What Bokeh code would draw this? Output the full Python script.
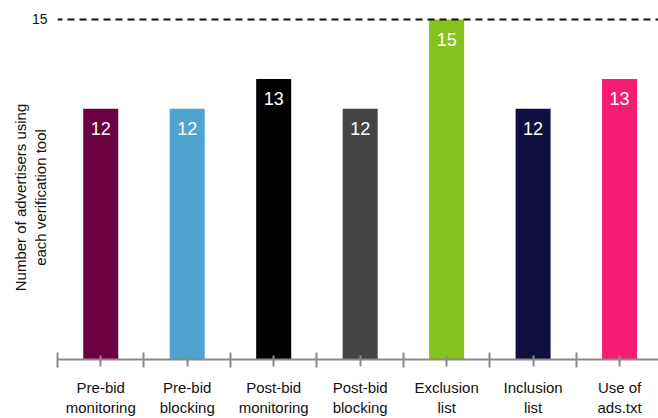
from bokeh.plotting import figure
from bokeh.models import ColumnDataSource, Range1d, FixedTicker, Span
from bokeh.core.properties import value
from bokeh.embed import file_html
from bokeh.resources import INLINE

# ---- data ----
categories = ["Pre-bid\nmonitoring", "Pre-bid\nblocking", "Post-bid\nmonitoring",
              "Post-bid\nblocking", "Exclusion\nlist", "Inclusion\nlist", "Use of\nads.txt"]
counts = [12, 12, 13, 12, 15, 12, 13]
colors = ["#6d0042", "#4fa3cf", "#000000", "#444444", "#84c21e", "#110f40", "#f41c73"]
y_ticks = [15]
y_title_lines = ["Number of advertisers using", "each verification tool"]

FONT = "Liberation Sans"

centers = [i + 0.5 for i in range(len(categories))]
bounds = list(range(len(categories)))

src = ColumnDataSource(dict(x=centers, top=counts, color=colors,
                            label=[str(c) for c in counts]))

y0, y1 = 3.567, 15.3
p = figure(width=658, height=418, output_backend="svg", toolbar_location=None,
           x_range=Range1d(0, 6.95), y_range=Range1d(y0, y1),
           min_border_left=57, min_border_right=0, min_border_top=10, min_border_bottom=56)

p.vbar(x="x", top="top", bottom=0, width=0.405, color="color", line_color=None, source=src)
p.text(x="x", y="top", text="label", text_color="white", text_font=value(FONT),
       text_font_size="18px", text_align="center", text_baseline="middle",
       y_offset=20, source=src)

p.add_layout(Span(location=y_ticks[0], dimension="width", line_color="#111111",
                  line_width=2, line_dash="7 5", line_dash_offset=2))

# x axis
xa = p.xaxis[0]
xa.ticker = FixedTicker(ticks=centers, minor_ticks=bounds)
xa.major_label_overrides = {c: lab for c, lab in zip(centers, categories)}
xa.axis_line_color = "#8a8a8a"
xa.axis_line_width = 2
xa.major_tick_line_color = "#8a8a8a"
xa.major_tick_line_width = 2
xa.minor_tick_line_color = "#8a8a8a"
xa.minor_tick_line_width = 2
xa.major_tick_in = 4
xa.major_tick_out = 7
xa.minor_tick_in = 7
xa.minor_tick_out = 8
xa.major_label_standoff = 11
xa.major_label_text_font = FONT
xa.major_label_text_font_size = "15px"
xa.major_label_text_color = "#111111"

# y axis
pad = "\u00a0" * 6  # shifts the centred label slightly towards the axis start
ya = p.yaxis[0]
ya.ticker = FixedTicker(ticks=y_ticks)
ya.axis_line_color = None
ya.major_tick_line_color = None
ya.minor_tick_line_color = None
ya.major_tick_in = 0
ya.major_tick_out = 0
ya.major_label_standoff = 10
ya.major_label_text_font = FONT
ya.major_label_text_font_size = "14px"
ya.major_label_text_color = "#111111"
ya.axis_label = "\n".join(line + pad for line in y_title_lines)
ya.axis_label_standoff = -20
ya.axis_label_text_font = FONT
ya.axis_label_text_font_size = "15px"
ya.axis_label_text_font_style = "normal"
ya.axis_label_text_color = "#111111"

p.xgrid.visible = False
p.ygrid.visible = False
p.outline_line_color = None
p.background_fill_color = "white"
p.border_fill_color = "white"

open("out.html", "w").write(file_html(p, INLINE))
